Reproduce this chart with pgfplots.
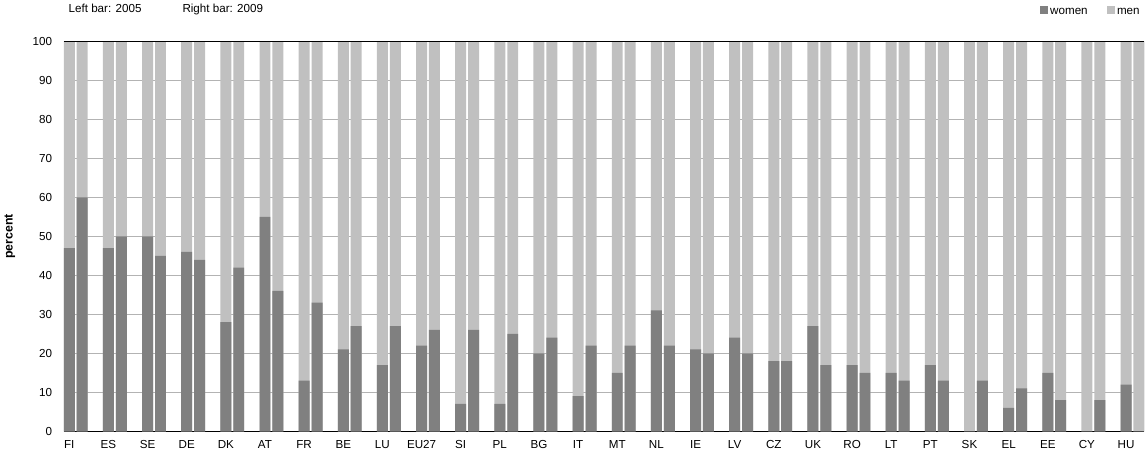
\documentclass[border=0pt]{standalone}
\usepackage{pgfplots}
\usepackage{pgfplotstable}
\pgfplotsset{compat=1.18}
\usepackage{fontspec}
\setmainfont{Liberation Sans}
\definecolor{dk}{HTML}{808080}
\definecolor{lt}{HTML}{C0C0C0}
\pgfplotstableread{
i l r
0 47 60
1 47 50
2 50 45
3 46 44
4 28 42
5 55 36
6 13 33
7 21 27
8 17 27
9 22 26
10 7 26
11 7 25
12 20 24
13 9 22
14 15 22
15 31 22
16 21 20
17 24 20
18 18 18
19 27 17
20 17 15
21 15 13
22 17 13
23 0 13
24 6 11
25 15 8
26 0 8
27 12 0
}\data
\begin{document}
\begin{tikzpicture}
\begin{axis}[
 scale only axis, width=790pt, height=285pt,
 xmin=-0.14, xmax=27.47, ymin=0, ymax=100,
 ytick={0,10,...,100}, ymajorgrids, grid style={lt!80!gray, line width=0.6pt},
 axis x line*=bottom, axis y line*=left,
 xtick={0,...,27},
 xticklabels={FI,ES,SE,DE,DK,AT,FR,BE,LU,EU27,SI,PL,BG,IT,MT,NL,IE,LV,CZ,UK,RO,LT,PT,SK,EL,EE,CY,HU},
 major tick length=0pt, ytick style={draw=none},
 /pgf/number format/assume math mode=true,
 tick label style={font=\fontsize{8.5}{10}\selectfont},
 xticklabel style={yshift=-3pt},
 yticklabel style={xshift=-5pt},
 ylabel={\bfseries percent}, ylabel style={font=\fontsize{9}{10}\selectfont, yshift=6pt},
 ybar, bar width=0.28, bar shift=0pt,
 every axis plot/.append style={draw=none},
 clip=false,
]
\addplot[fill=lt] table[x=i, y expr=100] {\data};
\addplot[fill=lt] table[x expr=\thisrow{i}+0.33, y expr=100] {\data};
\addplot[fill=dk] table[x=i, y=l] {\data};
\addplot[fill=dk] table[x expr=\thisrow{i}+0.33, y=r] {\data};
\draw[black, line width=0.8pt] (rel axis cs:0,1) -- (rel axis cs:1,1);
\end{axis}
\node[anchor=west, font=\fontsize{8.5}{10}\selectfont] at (0pt, 308pt) {Left bar: 2005\hspace{30pt}Right bar: 2009};
\node[anchor=east, font=\fontsize{8.5}{10}\selectfont] at (790pt, 308pt) {{\color{dk}\rule{6pt}{6pt}}\,women\hspace{14pt}{\color{lt}\rule{6pt}{6pt}}\,men};
\end{tikzpicture}
\end{document}
